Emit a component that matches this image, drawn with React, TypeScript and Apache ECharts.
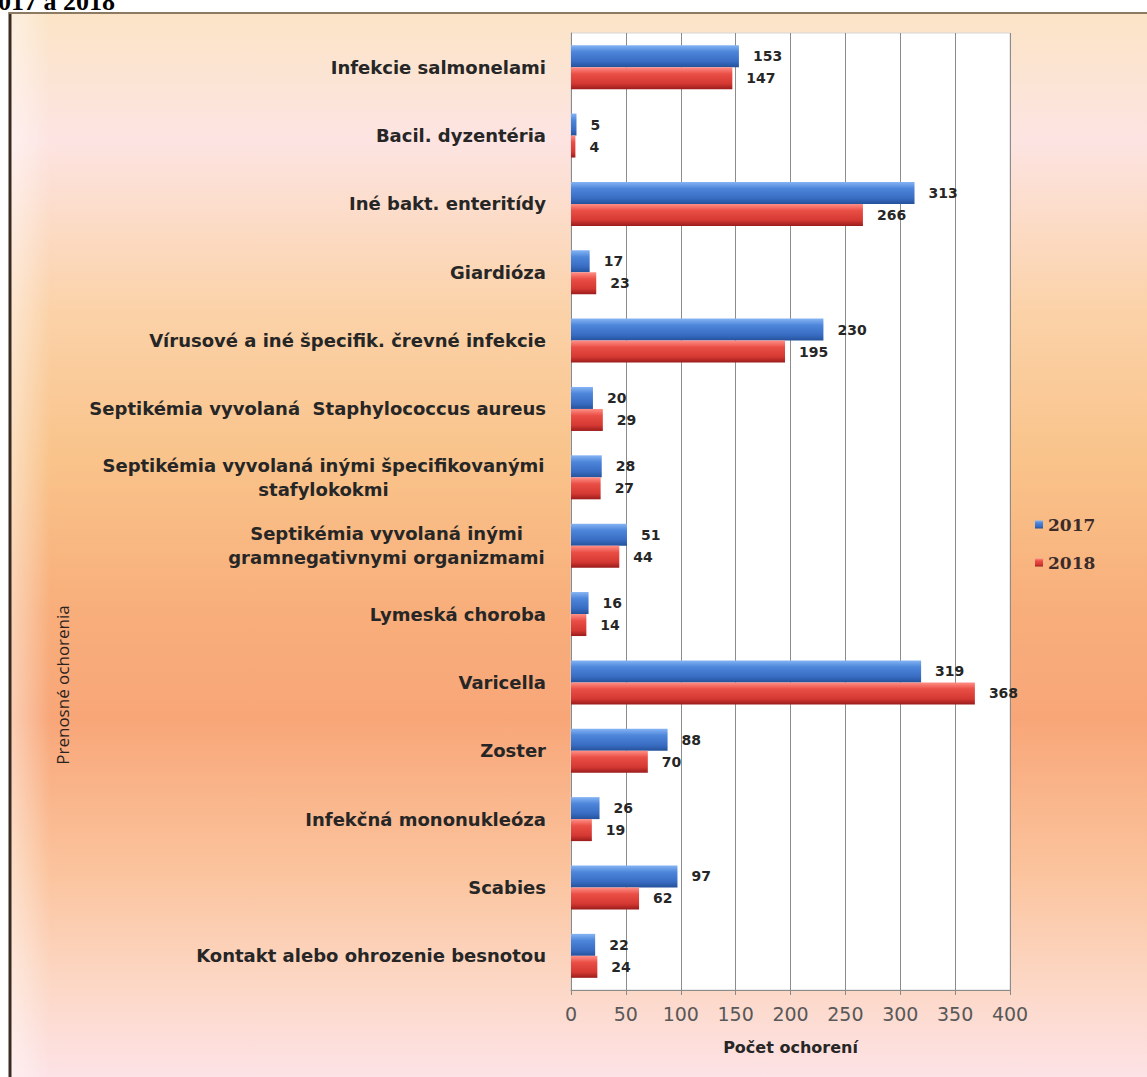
import React, { useEffect, useRef } from "react";
import * as echarts from "echarts";

const categories = [
  "Infekcie salmonelami",
  "Bacil. dyzentéria",
  "Iné bakt. enteritídy",
  "Giardióza",
  "Vírusové a iné špecifik. črevné infekcie",
  "Septikémia vyvolaná  Staphylococcus aureus",
  "Septikémia vyvolaná inými špecifikovanými\nstafylokokmi",
  "Septikémia vyvolaná inými\ngramnegativnymi organizmami",
  "Lymeská choroba",
  "Varicella",
  "Zoster",
  "Infekčná mononukleóza",
  "Scabies",
  "Kontakt alebo ohrozenie besnotou",
];
const values2017 = [153, 5, 313, 17, 230, 20, 28, 51, 16, 319, 88, 26, 97, 22];
const values2018 = [147, 4, 266, 23, 195, 29, 27, 44, 14, 368, 70, 19, 62, 24];
const seriesNames = ["2017", "2018"];
const xTicks = { min: 0, max: 400, interval: 50 };
const xAxisTitle = "Počet ochorení";
const yAxisTitle = "Prenosné ochorenia";
const headerText = "017 a 2018";

const blueGrad = new echarts.graphic.LinearGradient(0, 0, 0, 1, [
  { offset: 0, color: "#86b4f4" },
  { offset: 0.3, color: "#4d86da" },
  { offset: 0.75, color: "#386cc2" },
  { offset: 1, color: "#24519a" },
]);
const redGrad = new echarts.graphic.LinearGradient(0, 0, 0, 1, [
  { offset: 0, color: "#ff8f86" },
  { offset: 0.3, color: "#ea4f46" },
  { offset: 0.75, color: "#d43832" },
  { offset: 1, color: "#9a1c1c" },
]);

const labelFont = "'DejaVu Sans', sans-serif";
const catFontSize = 18;

function measure(text: string): number {
  const c = document.createElement("canvas").getContext("2d");
  if (!c) return text.length * 11;
  c.font = `bold ${catFontSize}px 'DejaVu Sans', sans-serif`;
  return c.measureText(text).width;
}

export default function App() {
  const ref = useRef<HTMLDivElement>(null);
  useEffect(() => {
    if (!ref.current) return;
    const chart = echarts.init(ref.current, undefined, { renderer: "svg" });
    const valueLabel = {
      show: true,
      position: "right" as const,
      distance: 14,
      color: "#262626",
      fontWeight: "bold" as const,
      fontSize: 14,
      fontFamily: labelFont,
    };
    // rich styles so that multi-line labels are centred within their block
    const rich: Record<string, any> = {};
    const catKeys: string[] = [];
    categories.forEach((c, i) => {
      if (c.includes("\n")) {
        const w = Math.ceil(Math.max(...c.split("\n").map(measure))) + 2;
        rich["m" + i] = {
          width: w,
          align: "center",
          color: "#262626",
          fontWeight: "bold",
          fontSize: catFontSize,
          fontFamily: labelFont,
          lineHeight: 24,
        };
      }
      catKeys.push(c);
    });
    chart.setOption({
      animation: false,
      backgroundColor: "#ffffff",
      graphic: [
        {
          type: "rect",
          shape: { x: 9, y: 12, width: 1140, height: 1070 },
          style: {
            fill: new echarts.graphic.LinearGradient(0, 0, 0, 1, [
              { offset: 0, color: "#fbe4c6" },
              { offset: 0.12, color: "#fde4e2" },
              { offset: 0.28, color: "#fbd2a8" },
              { offset: 0.42, color: "#f9c38a" },
              { offset: 0.56, color: "#f8ae7b" },
              { offset: 0.66, color: "#f8a678" },
              { offset: 0.8, color: "#fbc39c" },
              { offset: 0.9, color: "#fcd6c2" },
              { offset: 1, color: "#fde3e8" },
            ]),
          },
          z: -10,
        },
        {
          type: "rect",
          shape: { x: 11, y: 14, width: 40, height: 1070 },
          style: {
            fill: new echarts.graphic.LinearGradient(0, 0, 1, 0, [
              { offset: 0, color: "rgba(255,255,255,0.45)" },
              { offset: 1, color: "rgba(255,255,255,0)" },
            ]),
          },
          z: -9,
        },
        {
          type: "line",
          shape: { x1: 10, y1: 12, x2: 10, y2: 1080 },
          style: { stroke: "#3a2c22", lineWidth: 3 },
          z: 5,
        },
        {
          type: "line",
          shape: { x1: 9, y1: 13, x2: 1150, y2: 13 },
          style: { stroke: "#8c7b62", lineWidth: 2 },
          z: 5,
        },
        {
          type: "text",
          x: -2,
          y: 14,
          style: {
            text: headerText,
            font: "bold 26px 'Liberation Serif', serif",
            fill: "#000000",
            verticalAlign: "bottom",
          },
          z: 6,
        },
        {
          type: "text",
          x: 62,
          y: 685,
          rotation: Math.PI / 2,
          style: {
            text: yAxisTitle,
            font: "17px 'Open Sans', sans-serif",
            fill: "#2a2220",
            align: "center",
            verticalAlign: "middle",
          },
          z: 6,
        },
      ],
      legend: {
        orient: "vertical",
        left: 1030,
        top: 511,
        itemWidth: 8,
        itemHeight: 8,
        itemGap: 21,
        icon: "rect",
        textStyle: {
          color: "#3b2c2a",
          fontSize: 17,
          fontFamily: "'DejaVu Serif', serif",
          fontWeight: "bold",
        },
        data: seriesNames,
      },
      grid: {
        left: 571,
        right: 1147 - 1010,
        top: 33,
        bottom: 1077 - 990,
        show: true,
        backgroundColor: "#ffffff",
        borderColor: "#d6d6d6",
        borderWidth: 1,
        containLabel: false,
      },
      xAxis: {
        type: "value",
        min: xTicks.min,
        max: xTicks.max,
        interval: xTicks.interval,
        name: xAxisTitle,
        nameLocation: "middle",
        nameGap: 49,
        nameTextStyle: {
          color: "#262626",
          fontWeight: "bold",
          fontSize: 16,
          fontFamily: labelFont,
        },
        axisLine: { show: true, lineStyle: { color: "#8a8a8a" } },
        axisTick: { show: true, length: 5, lineStyle: { color: "#8a8a8a" } },
        axisLabel: {
          color: "#585858",
          fontSize: 19,
          margin: 14,
          fontFamily: labelFont,
        },
        splitLine: { show: true, lineStyle: { color: "#8c8c8c", width: 1 } },
      },
      yAxis: {
        type: "category",
        inverse: true,
        data: catKeys,
        axisLine: { show: true, lineStyle: { color: "#8a8a8a" } },
        axisTick: { show: false },
        axisLabel: {
          color: "#262626",
          fontWeight: "bold",
          fontSize: catFontSize,
          fontFamily: labelFont,
          margin: 25,
          lineHeight: 24,
          formatter: (value: string, idx: number) => {
            const i = categories.indexOf(value);
            if (value.includes("\n") && rich["m" + i]) {
              return value
                .split("\n")
                .map((l) => `{m${i}|${l}}`)
                .join("\n");
            }
            return value;
          },
          rich,
        },
      },
      series: [
        {
          name: seriesNames[0],
          type: "bar",
          data: values2017,
          barWidth: 22,
          barGap: "0%",
          itemStyle: { color: blueGrad },
          label: valueLabel,
        },
        {
          name: seriesNames[1],
          type: "bar",
          data: values2018,
          barWidth: 22,
          barGap: "0%",
          itemStyle: { color: redGrad },
          label: valueLabel,
        },
      ],
    });
    return () => chart.dispose();
  }, []);
  return (
    <div
      ref={ref}
      style={{ position: "absolute", left: 0, top: 0, width: 1147, height: 1077 }}
    />
  );
}
